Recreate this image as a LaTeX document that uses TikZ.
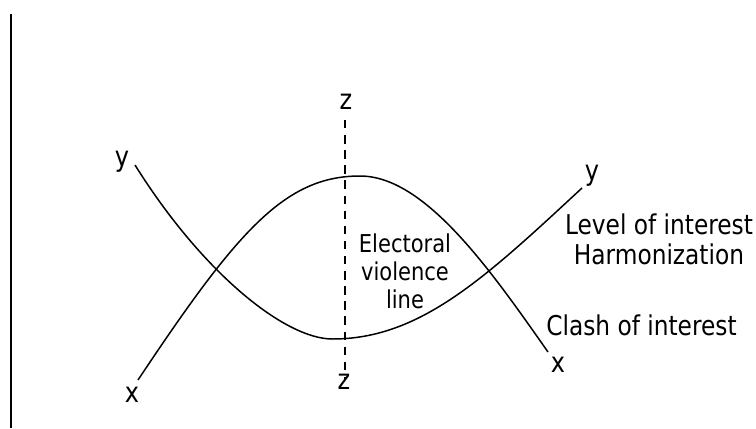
\documentclass[tikz,border=0pt]{standalone}
\usepackage{fontspec}
\setmainfont{DejaVu Sans Condensed}[FakeStretch=0.95]
\usepackage{tikz}
\usetikzlibrary{positioning}

\begin{document}
\begin{tikzpicture}[
          every node/.style={font=\fontsize{15.5}{17}\selectfont, inner sep=0pt},
          axislabel/.style={font=\fontsize{16}{18}\selectfont, anchor=base},
          curve/.style={line width=0.85pt},
          zline/.style={line width=1.3pt, dash pattern=on 4.8pt off 3.8pt},
          caption/.style={align=center}
      ]
        \useasboundingbox (0,0) rectangle (15.12,8.56);

        % frame line on the left
        \coordinate (frameTop) at (0.22,8.28);
        \coordinate (frameBot) at (0.22,0);
        \draw[line width=1.2pt] (frameTop) -- (frameBot);

        % end points and turning points of the two curves
        \coordinate (yLeft) at (2.70,5.26);
        \coordinate (yRight) at (11.64,4.80);
        \coordinate (xLeft) at (2.76,0.96);
        \coordinate (xRight) at (10.96,1.52);
        \coordinate (lowPt) at (6.65,1.78);
        \coordinate (highPt) at (7.20,5.04);

        % harmonization curve y -- y
        \draw[curve] (yLeft) .. controls (4.05,3.10) and (5.70,1.78) .. (lowPt)
            .. controls (8.40,1.78) and (9.70,3.00) .. (yRight);

        % clash curve x -- x
        \draw[curve] (xLeft) .. controls (4.75,3.95) and (5.70,5.04) .. (highPt)
            .. controls (8.50,5.04) and (9.81,3.16) .. (xRight);

        % electoral violence line z -- z
        \node[axislabel] (zTop) at (6.92,6.38) {z};
        \node[axislabel] (zBot) at (6.88,0.78) {z};
        \coordinate (zStart) at (6.90,6.16);
        \coordinate (zEnd) at (6.90,0.96);
        \draw[zline] (zStart) -- (zEnd);

        % axis letters
        \node[axislabel] (yL) at (2.44,5.24) {y};
        \node[axislabel] (yR) at (11.84,4.96) {y};
        \node[axislabel] (xL) at (2.64,0.52) {x};
        \node[axislabel] (xR) at (11.16,1.12) {x};

        \node[caption, font=\fontsize{14}{16}\selectfont] (violence) at (8.10,3.14) {Electoral\\violence\\line};
        \node[caption] (harmony) at (13.18,3.78) {Level of interest\\Harmonization};
        \node[caption] (clash) at (12.83,2.05) {Clash of interest};
      \end{tikzpicture}
\end{document}
